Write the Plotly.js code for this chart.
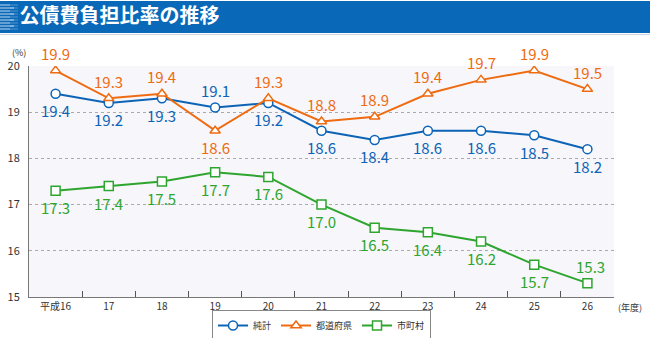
<!DOCTYPE html>
<html><head><meta charset="utf-8">
<script src="https://cdn.plot.ly/plotly-3.0.1.min.js"></script>
<style>html,body{margin:0;padding:0;background:#fff}#c{width:650px;height:338px}</style>
</head><body><div id="c"></div>
<script>
const categories = ['平成16','17','18','19','20','21','22','23','24','25','26'];
const totalVals = [19.4,19.2,19.3,19.1,19.2,18.6,18.4,18.6,18.6,18.5,18.2];
const prefVals  = [19.9,19.3,19.4,18.6,19.3,18.8,18.9,19.4,19.7,19.9,19.5];
const muniVals  = [17.3,17.4,17.5,17.7,17.6,17.0,16.5,16.4,16.2,15.7,15.3];
const seriesNames = ['純計','都道府県','市町村'];
const totalLabelPos = ['below','below','below','above','below','below','below','below','below','below','below'];
const prefLabelPos  = ['above','above','above','below','above','above','above','above','above','above','above'];
const muniLabelPos  = ['below','below','below','below','below','below','below','below','below','below','above'];

const BLUE='#0d64b6', ORANGE='#ef6b10', GREEN='#2ea52e';
const F="'Noto Sans CJK JP', 'Noto Sans', sans-serif";

function trace(vals,name,color,symbol){
  return {x:categories,y:vals,name:name,type:'scatter',mode:'lines+markers',
    line:{color:color,width:2},
    marker:{symbol:symbol,size:9,color:'#fff',line:{color:color,width:1.5}},
    hoverinfo:'skip'};
}
const data=[
  trace(totalVals,seriesNames[0],BLUE,'circle'),
  trace(prefVals,seriesNames[1],ORANGE,'triangle-up'),
  trace(muniVals,seriesNames[2],GREEN,'square')
];

const ann=[];
function addLabels(vals,pos,color){
  vals.forEach((v,i)=>{
    ann.push({x:i,y:v,xref:'x',yref:'y',text:v.toFixed(1),showarrow:false,
      xshift:(pos[i]==='above'&&i===vals.length-1&&color===GREEN)?3:0,
      yshift:pos[i]==='above'?17:-17,font:{family:F,size:15,color:color}});
  });
}
addLabels(totalVals,totalLabelPos,BLUE);
addLabels(prefVals,prefLabelPos,ORANGE);
addLabels(muniVals,muniLabelPos,GREEN);

const toPY = py => (297-py)/231;
const toPX = px => (px-29)/585;
ann.push({xref:'paper',yref:'paper',x:toPX(19),y:toPY(52),text:'(%)',showarrow:false,font:{family:F,size:9,color:'#333'},xanchor:'center',yanchor:'middle'});
ann.push({xref:'paper',yref:'paper',x:toPX(616),y:toPY(307),text:'(年度)',showarrow:false,font:{family:F,size:9,color:'#333'},xanchor:'left',yanchor:'middle'});

const shapes=[
  {type:'rect',xref:'paper',yref:'paper',x0:toPX(0),x1:toPX(650),y0:toPY(33),y1:toPY(1),fillcolor:'#0a68b8',line:{width:0},layer:'below'},
  {type:'line',xref:'paper',yref:'paper',x0:toPX(0),x1:toPX(650),y0:toPY(34.5),y1:toPY(34.5),line:{color:'#c9d3e2',width:1}}
];
for(let k=0;k<9;k++){
  const yy=5+k*3;
  shapes.push({type:'line',xref:'paper',yref:'paper',x0:toPX(0),x1:toPX(10+k%2*4),y0:toPY(yy),y1:toPY(yy),line:{color:'rgba(255,255,255,0.75)',width:1}});
  shapes.push({type:'line',xref:'paper',yref:'paper',x0:toPX(10),x1:toPX(18),y0:toPY(yy),y1:toPY(yy),line:{color:'rgba(255,255,255,0.3)',width:1}});
}

const layout={
  width:650,height:338,
  margin:{l:29,r:36,t:66,b:41,autoexpand:false},
  paper_bgcolor:'#fff',plot_bgcolor:'#f6f6fb',
  font:{family:F,color:'#333'},
  title:{text:'<b>公債費負担比率の推移</b>',x:0.03,xanchor:'left',y:0.952,yanchor:'middle',font:{family:F,size:20,color:'#fff'}},
  showlegend:true,
  legend:{orientation:'h',x:0.5,xanchor:'center',y:toPY(310),yanchor:'top',bordercolor:'#888',borderwidth:1,
    font:{family:F,size:9,color:'#333'},itemwidth:30,bgcolor:'#fff'},
  xaxis:{type:'category',range:[-0.5,10.5],tickson:'boundaries',ticks:'inside',ticklen:6,tickcolor:'#555',tickwidth:1,
    showgrid:false,zeroline:false,showline:true,linecolor:'#777',linewidth:1,
    tickfont:{family:F,size:10,color:'#333'},automargin:false},
  yaxis:{range:[15,20],dtick:1,showgrid:true,gridcolor:'#aaa',griddash:'dot',gridwidth:1,
    zeroline:false,showline:true,linecolor:'#777',linewidth:1,ticks:'',
    tickfont:{family:F,size:11,color:'#333'},ticklabelstandoff:6,automargin:false},
  annotations:ann,shapes:shapes
};
Plotly.newPlot('c',data,layout,{staticPlot:true});
</script></body></html>
